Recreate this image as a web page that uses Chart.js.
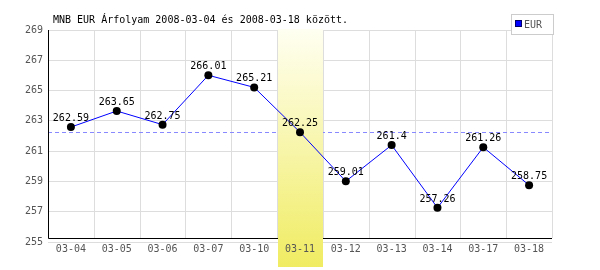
<!DOCTYPE html>
<html>
<head>
<meta charset="utf-8">
<script src="https://cdn.jsdelivr.net/npm/chart.js@4.4.0/dist/chart.umd.min.js"></script>
<style>
  html, body { margin: 0; padding: 0; background: #fff; }
</style>
</head>
<body>
<canvas id="chart" width="600" height="270"></canvas>
<script>
const titleText = 'MNB EUR Árfolyam 2008-03-04 és 2008-03-18 között.'
const seriesName = 'EUR'
const dates = ['03-04', '03-05', '03-06', '03-07', '03-10', '03-11', '03-12', '03-13', '03-14', '03-17', '03-18']
const rates = [262.59, 263.65, 262.75, 266.01, 265.21, 262.25, 259.01, 261.4, 257.26, 261.26, 258.75]
const highlightIndex = 5
const yMin = 255
const yMax = 269
const yStep = 2

const monoFont = '"DejaVu Sans Mono", monospace'

// band, reference line, axis lines, labels, title and legend
const decorations = {
  id: 'decorations',
  beforeDatasetsDraw(chart) {
    const { ctx, chartArea, scales } = chart
    const x = scales.x
    const y = scales.y
    ctx.save()

    // vertical grid, stops at the axis line
    ctx.strokeStyle = '#dddddd'
    ctx.lineWidth = 1
    for (let i = 0; i <= dates.length; i++) {
      const px = Math.round(x.getPixelForValue(i - 0.5)) + 0.5
      ctx.beginPath()
      ctx.moveTo(px, chartArea.top)
      ctx.lineTo(px, chartArea.bottom - 4)
      ctx.stroke()
    }

    // dashed reference at highlighted day's value
    const refY = Math.round(y.getPixelForValue(rates[highlightIndex])) + 0.5
    ctx.strokeStyle = '#8888ff'
    ctx.setLineDash([4, 3])
    ctx.beginPath()
    ctx.moveTo(chartArea.left, refY)
    ctx.lineTo(chartArea.right, refY)
    ctx.stroke()
    ctx.setLineDash([])

    // black axis lines
    ctx.strokeStyle = '#000000'
    const ax = Math.round(chartArea.left) + 0.5
    const ay = Math.round(chartArea.bottom - 4) + 0.5
    ctx.beginPath()
    ctx.moveTo(ax, chartArea.top)
    ctx.lineTo(ax, ay)
    ctx.lineTo(chartArea.right, ay)
    ctx.stroke()

    // highlighted day band
    const bx0 = Math.round(x.getPixelForValue(highlightIndex - 0.5)) + 1
    const bx1 = Math.round(x.getPixelForValue(highlightIndex + 0.5))
    const by0 = chartArea.top - 1
    const by1 = chart.height - 3
    const grad = ctx.createLinearGradient(0, by0, 0, by1)
    grad.addColorStop(0, '#fffff2')
    grad.addColorStop(1, '#f0ec62')
    ctx.fillStyle = grad
    ctx.fillRect(bx0, by0, bx1 - bx0, by1 - by0)

    ctx.restore()
  },
  afterDatasetsDraw(chart) {
    const { ctx } = chart
    const meta = chart.getDatasetMeta(0)
    ctx.save()
    ctx.font = '10px ' + monoFont
    ctx.fillStyle = '#000000'
    ctx.textAlign = 'center'
    ctx.textBaseline = 'alphabetic'
    meta.data.forEach((pt, i) => {
      ctx.fillText(String(rates[i]), pt.x, pt.y - 6)
    })
    ctx.restore()
  },
  afterDraw(chart) {
    const { ctx } = chart
    ctx.save()
    ctx.font = '10px ' + monoFont
    ctx.fillStyle = '#000000'
    ctx.textAlign = 'left'
    ctx.textBaseline = 'alphabetic'
    ctx.fillText(titleText, 53, 23)

    // legend box
    ctx.fillStyle = '#ffffff'
    ctx.fillRect(511, 14, 42, 20)
    ctx.strokeStyle = '#cccccc'
    ctx.lineWidth = 1
    ctx.strokeRect(511.5, 14.5, 42, 20)
    ctx.fillStyle = '#0000ff'
    ctx.fillRect(516, 21, 6, 6)
    ctx.strokeStyle = '#000066'
    ctx.strokeRect(515.5, 20.5, 6, 6)
    ctx.fillStyle = '#555555'
    ctx.fillText(chart.data.datasets[0].label, 524, 28)
    ctx.restore()
  }
}

new Chart(document.getElementById('chart').getContext('2d'), {
  type: 'line',
  data: {
    labels: dates,
    datasets: [{
      label: seriesName,
      data: rates,
      borderColor: '#0000ff',
      borderWidth: 1,
      tension: 0,
      pointRadius: 4,
      pointBackgroundColor: '#000000',
      pointBorderColor: '#000000',
      pointBorderWidth: 0
    }]
  },
  options: {
    responsive: false,
    animation: false,
    devicePixelRatio: 1,
    layout: {
      padding: { top: 30, right: 48, bottom: 0, left: 0 }
    },
    plugins: {
      legend: { display: false },
      tooltip: { enabled: false }
    },
    scales: {
      x: {
        offset: true,
        grid: { display: false },
        border: { display: false },
        ticks: {
          z: 1,
          color: '#555555',
          font: { family: monoFont, size: 10 },
          padding: -7,
          maxRotation: 0,
          autoSkip: false
        },
        afterFit: (scale) => { scale.height = 28 }
      },
      y: {
        min: yMin,
        max: yMax,
        grid: { color: '#dddddd', drawTicks: false },
        border: { display: false },
        ticks: {
          stepSize: yStep,
          color: '#555555',
          font: { family: monoFont, size: 10 },
          padding: 5
        },
        afterFit: (scale) => { scale.width = 48 }
      }
    }
  },
  plugins: [decorations]
})
</script>
</body>
</html>
